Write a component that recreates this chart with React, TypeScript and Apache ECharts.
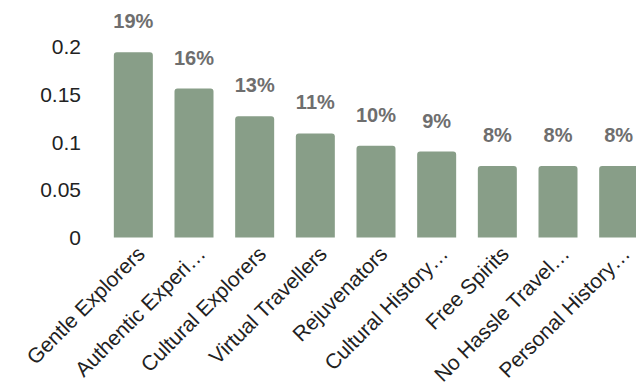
import React, { useEffect, useRef } from "react";
import * as echarts from "echarts";

const categories = [
  "Gentle Explorers",
  "Authentic Experi…",
  "Cultural Explorers",
  "Virtual Travellers",
  "Rejuvenators",
  "Cultural History…",
  "Free Spirits",
  "No Hassle Travel…",
  "Personal History…",
];
const values = [0.194, 0.156, 0.127, 0.109, 0.096, 0.09, 0.075, 0.075, 0.075];
const yTicks = [0, 0.05, 0.1, 0.15, 0.2];

export default function App() {
  const ref = useRef<HTMLDivElement>(null);
  useEffect(() => {
    if (!ref.current) return;
    const chart = echarts.init(ref.current, undefined, { renderer: "svg" });
    chart.setOption({
      animation: false,
      grid: {
        left: 103,
        width: 546,
        top: 46.5,
        height: 191,
        containLabel: false,
        outerBoundsMode: "none",
      },
      xAxis: {
        type: "category",
        data: categories,
        axisLine: { show: false },
        axisTick: { show: false },
        axisLabel: {
          rotate: 45,
          interval: 0,
          margin: 5,
          verticalAlign: "top",
          color: "#222",
          fontSize: 21,
          fontFamily: "Liberation Sans, Arial, sans-serif",
        },
      },
      yAxis: {
        type: "value",
        min: yTicks[0],
        max: yTicks[yTicks.length - 1],
        interval: 0.05,
        splitLine: { show: false },
        axisLine: { show: false },
        axisTick: { show: false },
        axisLabel: {
          margin: 22,
          color: "#222",
          fontSize: 21,
          fontFamily: "Liberation Sans, Arial, sans-serif",
          formatter: (v: number) => String(v),
        },
      },
      series: [
        {
          type: "bar",
          data: values,
          barWidth: 39,
          itemStyle: { color: "#889e88", borderRadius: [3, 3, 0, 0] },
          label: {
            show: true,
            position: "top",
            distance: 21,
            color: "#6e6e6e",
            fontWeight: "bold",
            fontSize: 20,
            fontFamily: "Liberation Sans, Arial, sans-serif",
            formatter: (p: any) => Math.round(p.value * 100) + "%",
          },
        },
      ],
    });
    return () => chart.dispose();
  }, []);
  return <div ref={ref} style={{ width: 644, height: 391, margin: -8 }} />;
}
